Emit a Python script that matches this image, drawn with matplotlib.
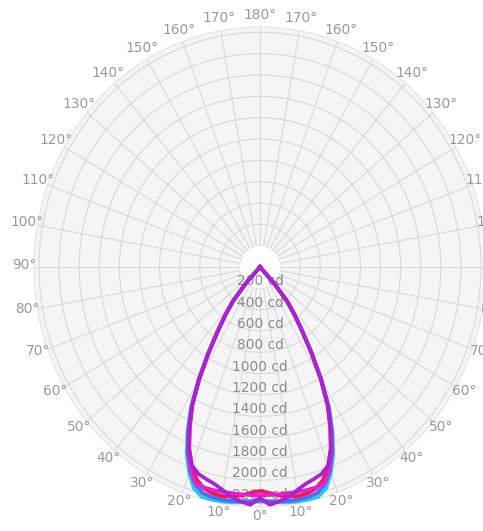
import numpy as np
import matplotlib
matplotlib.use("Agg")
import matplotlib.pyplot as plt
from matplotlib.transforms import offset_copy

# <-------------- data -------------->
R_MAX = 2250
ring_values = [200, 400, 600, 800, 1000, 1200, 1400, 1600, 1800, 2000, 2200]
ring_labels = ["200 cd", "400 cd", "600 cd", "800 cd", "1000 cd", "1200 cd",
               "1400 cd", "1600 cd", "1800 cd", "2000 cd", "2200 cd"]
angle_ticks = list(range(0, 360, 10))

gamma = [0, 2.5, 5, 7.5, 10, 12.5, 15, 17.5, 20, 22.5, 25, 27.5,
         30, 32.5, 35, 37.5, 40, 42.5, 45, 90, 180]

cyan_cd = [2200, 2205, 2215, 2225, 2232, 2236, 2232, 2180, 2060, 1905, 1710, 1490,
           1230, 960, 735, 565, 420, 210, 0, 0, 0]
blue_cd = [2190, 2198, 2206, 2212, 2214, 2210, 2195, 2140, 2030, 1880, 1690, 1480,
           1220, 955, 732, 565, 420, 210, 0, 0, 0]
red_cd = [2100, 2120, 2150, 2170, 2180, 2175, 2150, 2090, 1990, 1840, 1650, 1455,
          1205, 950, 730, 565, 420, 210, 0, 0, 0]
magenta_cd = [2140, 2140, 2140, 2138, 2140, 2143, 2140, 2130, 2020, 1860, 1670, 1465,
              1210, 950, 730, 565, 420, 210, 0, 0, 0]
purple_cd = [2165, 2232, 2205, 2175, 2125, 2085, 2060, 2035, 1980, 1845, 1665, 1465,
             1210, 950, 730, 565, 420, 210, 0, 0, 0]

series = [
    (cyan_cd, "#2fc3ee"),
    (blue_cd, "#4d6ef0"),
    (red_cd, "#f0165e"),
    (magenta_cd, "#e022cc"),
    (purple_cd, "#a824d0"),
]

# <-------------- figure -------------->
fig = plt.figure(figsize=(4.83, 5.31), dpi=100)
ax = fig.add_axes([0.0704, 0.0452, 0.9358, 0.904], projection="polar")
ax.set_aspect("auto")
ax.set_theta_zero_location("S")
ax.set_ylim(0, R_MAX)
ax.set_facecolor("#f5f5f5")
ax.spines["polar"].set_color("#e4e4e4")
ax.spines["polar"].set_linewidth(0.8)

ax.set_xticks(np.deg2rad(angle_ticks))
ax.set_xticklabels([])
ax.set_yticks(ring_values)
ax.set_yticklabels([])
ax.set_axisbelow(True)
ax.grid(color="#d9d9d9", linewidth=0.8)
ax.tick_params(length=0)

# white hole in the middle
t = np.linspace(0, 2 * np.pi, 200)
ax.fill(t, np.full_like(t, 200), color="white", zorder=1, lw=0)

# <-------------- angle labels -------------->
lab_trans = offset_copy(ax.transData, fig=fig, x=0, y=1.5, units="dots")
for deg in angle_ticks:
    lab = min(deg, 360 - deg)
    ax.text(np.deg2rad(deg), R_MAX * 1.045, "%d°" % lab,
            transform=lab_trans, ha="center", va="center",
            fontsize=9.9, color="#9a9a9a", clip_on=False)

# <-------------- ring labels -------------->
for v, s in zip(ring_values, ring_labels):
    ax.text(0, v, s, ha="center", va="bottom", fontsize=9.9,
            color="#8c8c8c", zorder=2)

# <-------------- curves -------------->
g = np.deg2rad(np.array(gamma))
for vals, col in series:
    vals = np.array(vals)
    th = np.concatenate([-g[::-1], g[1:]])
    rr = np.concatenate([vals[::-1], vals[1:]])
    ax.plot(th, rr, color=col, linewidth=2.7, zorder=3,
            solid_joinstyle="round")

fig.savefig("out.png", dpi=100)
